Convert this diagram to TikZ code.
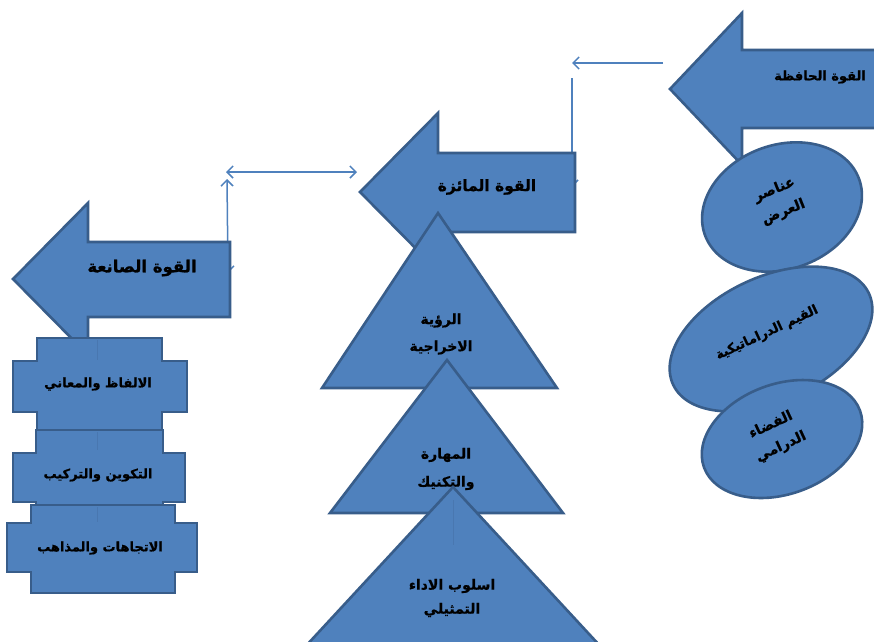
\documentclass[tikz,border=0pt]{standalone}
\usepackage{fontspec}
\TeXXeTstate=1
\newfontfamily\arabicfont[Script=Arabic,BoldFont={DejaVu Sans Bold},BoldFeatures={FakeBold=0.8}]{DejaVu Sans}
\usetikzlibrary{arrows.meta}
\definecolor{shapefill}{HTML}{4F81BD}
\definecolor{shapeedge}{HTML}{385D8A}
\newcommand\artxt[1]{\beginR #1\endR}
\begin{document}
\begin{tikzpicture}[x=1pt,y=-1pt,
  blockshape/.style={fill=shapefill,draw=shapeedge,line width=2.6pt,line join=miter},
  lbl/.style={font=\arabicfont\bfseries\fontsize{13}{25}\selectfont,align=center,text=black,inner sep=0pt},
  conn/.style={draw=shapefill,line width=1.5pt,-{Straight Barb[length=6pt,width=12pt,line width=1.5pt]}},
  dconn/.style={draw=shapefill,line width=1.5pt,{Straight Barb[length=6pt,width=12pt,line width=1.5pt]}-{Straight Barb[length=6pt,width=12pt,line width=1.5pt]}},
  faint/.style={draw=shapeedge,opacity=0.25,line width=1pt},
]
\useasboundingbox (0,0) rectangle (874,641);
\clip (0,0) rectangle (874,641);
\fill[white] (0,0) rectangle (874,641);

% connector end points
\coordinate (c1s) at (663,63);
\coordinate (c1e) at (572,63);
\coordinate (c2s) at (572,78);
\coordinate (c2e) at (572,187);
\coordinate (c3s) at (226,172);
\coordinate (c3e) at (357,172);
\coordinate (c4s) at (227,179);
\coordinate (c4e) at (228,273);

% connectors partly behind the arrows
\draw[conn] (c2s) -- (c2e);
\draw[dconn] (c4e) -- (c4s);

% block arrows
\draw[blockshape] (670,89) -- (742,13) -- (742,50) -- (885,50) -- (885,128) -- (742,128) -- (742,165) -- cycle;
\draw[blockshape] (360,192) -- (438,113) -- (438,153) -- (575,153) -- (575,232) -- (438,232) -- (438,271) -- cycle;
\draw[blockshape] (13,279) -- (88,203) -- (88,242) -- (230,242) -- (230,317) -- (88,317) -- (88,355) -- cycle;

\node[lbl] (hafiza) at (820,77) {\artxt{القوة الحافظة}};
\node[lbl,font=\arabicfont\bfseries\fontsize{15.5}{20}\selectfont] (maeza) at (487,187) {\artxt{القوة المائزة}};
\node[lbl,font=\arabicfont\bfseries\fontsize{16.5}{20}\selectfont] (saneaa) at (142,268) {\artxt{القوة الصانعة}};

% other connectors
\draw[conn] (c1s) -- (c1e);
\draw[dconn] (c3s) -- (c3e);

% ellipses on the right
\draw[blockshape,rotate around={20:(782,207)}] (782,207) ellipse [x radius=82, y radius=62];
\node[lbl,rotate=22,font=\arabicfont\bfseries\fontsize{14}{24}\selectfont] (anaser) at (779,201) {\artxt{عناصر}\\\artxt{العرض}};
\draw[blockshape,rotate around={25:(771,339)}] (771,339) ellipse [x radius=108, y radius=62];
\node[lbl,rotate=25] (qiyam) at (767,333) {\artxt{القيم الدراماتيكية}};
\draw[blockshape,rotate around={20:(782,439)}] (782,439) ellipse [x radius=83, y radius=55];
\node[lbl,rotate=25,font=\arabicfont\bfseries\fontsize{14}{24}\selectfont] (fadaa) at (776,436) {\artxt{الفضاء}\\\artxt{الدرامي}};

% triangles in the middle
\draw[blockshape] (438,213) -- (557,388) -- (322,388) -- cycle;
\node[lbl,font=\arabicfont\bfseries\fontsize{14}{27}\selectfont] (ruya) at (441,334) {\artxt{الرؤية}\\\artxt{الاخراجية}};
\draw[faint] (446,360) -- (447,372);
\draw[blockshape] (447,360) -- (563,513) -- (330,513) -- cycle;
\node[lbl,font=\arabicfont\bfseries\fontsize{14}{28}\selectfont] (mahara) at (446,469) {\artxt{المهارة}\\\artxt{والتكنيك}};
\draw[blockshape] (453,487) -- (602,648) -- (304,648) -- cycle;
\draw[faint] (453,500) -- (453,545);
\node[lbl,font=\arabicfont\bfseries\fontsize{14}{24}\selectfont] (uslub) at (452,598) {\artxt{اسلوب الاداء}\\\artxt{التمثيلي}};

% boxes on the left
\draw[blockshape] (37,338) -- (162,338) -- (162,361) -- (187,361) -- (187,412) -- (162,412) -- (162,430) -- (37,430) -- (37,412) -- (13,412) -- (13,361) -- (37,361) -- cycle;
\draw[faint] (97,340) -- (97,360);
\node[lbl] (alfaz) at (98,384) {\artxt{الالفاظ والمعاني}};
\draw[blockshape] (36,430) -- (163,430) -- (163,453) -- (185,453) -- (185,502) -- (163,502) -- (163,516) -- (36,516) -- (36,502) -- (13,502) -- (13,453) -- (36,453) -- cycle;
\draw[faint] (97,432) -- (97,450);
\node[lbl] (takwin) at (98,475) {\artxt{التكوين والتركيب}};
\draw[blockshape] (31,505) -- (175,505) -- (175,523) -- (197,523) -- (197,572) -- (175,572) -- (175,593) -- (31,593) -- (31,572) -- (7,572) -- (7,523) -- (31,523) -- cycle;
\draw[faint] (97,507) -- (97,522);
\node[lbl] (ittijahat) at (100,548) {\artxt{الاتجاهات والمذاهب}};
\end{tikzpicture}
\end{document}
